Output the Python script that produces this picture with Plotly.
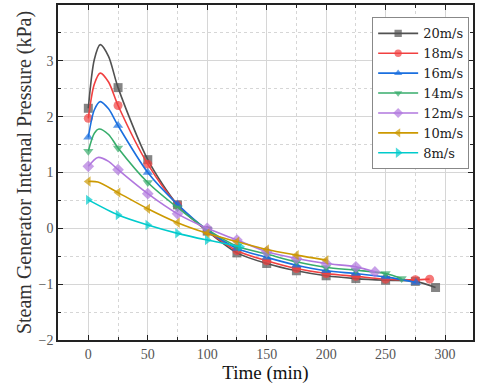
import plotly.graph_objects as go

# values
names = ['20m/s', '18m/s', '16m/s', '14m/s', '12m/s', '10m/s', '8m/s']

t_20 = [0, 25, 50, 75, 100, 125, 150, 175, 200, 225, 250, 275, 292]
p_20 = [2.15, 2.52, 1.23, 0.42, -0.05, -0.44, -0.63, -0.76, -0.85, -0.90, -0.93, -0.95, -1.06]
t_18 = [0, 25, 50, 75, 100, 125, 150, 175, 200, 225, 250, 275, 287]
p_18 = [1.97, 2.20, 1.15, 0.42, -0.04, -0.40, -0.58, -0.72, -0.81, -0.86, -0.91, -0.92, -0.91]
t_16 = [0, 25, 50, 75, 100, 125, 150, 175, 200, 225, 250, 275.5]
p_16 = [1.63, 1.84, 1.00, 0.43, -0.03, -0.36, -0.52, -0.66, -0.76, -0.81, -0.87, -0.97]
t_14 = [0, 25, 50, 75, 100, 125, 150, 175, 200, 225, 250, 263.5]
p_14 = [1.38, 1.44, 0.82, 0.37, -0.02, -0.32, -0.46, -0.60, -0.70, -0.75, -0.81, -0.90]
t_12 = [0, 25, 50, 75, 100, 125, 150, 175, 200, 225, 241]
p_12 = [1.11, 1.05, 0.62, 0.26, 0.0, -0.21, -0.42, -0.54, -0.63, -0.69, -0.78]
t_10 = [0, 25, 50, 75, 100, 125, 150, 175, 200]
p_10 = [0.84, 0.64, 0.35, 0.10, -0.09, -0.24, -0.38, -0.48, -0.57]
t_8 = [0, 25, 50, 75, 100, 128]
p_8 = [0.51, 0.24, 0.06, -0.09, -0.21, -0.33]

# extra curve points (no marker) around the early peak
peak_t_20 = [5, 10, 17]
peak_p_20 = [3.02, 3.29, 3.08]
peak_t_18 = [5, 10, 17]
peak_p_18 = [2.58, 2.78, 2.62]
peak_t_16 = [5, 10, 17]
peak_p_16 = [2.12, 2.27, 2.14]
peak_t_14 = [5, 9, 17]
peak_p_14 = [1.70, 1.78, 1.68]
peak_t_12 = [8, 17]
peak_p_12 = [1.27, 1.20]
peak_t_10 = [8]
peak_p_10 = [0.83]
peak_t_8 = []
peak_p_8 = []

series = [
    (t_20, p_20, peak_t_20, peak_p_20),
    (t_18, p_18, peak_t_18, peak_p_18),
    (t_16, p_16, peak_t_16, peak_p_16),
    (t_14, p_14, peak_t_14, peak_p_14),
    (t_12, p_12, peak_t_12, peak_p_12),
    (t_10, p_10, peak_t_10, peak_p_10),
    (t_8, p_8, peak_t_8, peak_p_8),
]

colors = ['#515151', '#F14040', '#1A6FDF', '#37AD6B', '#B177DE', '#CC9900', '#00CBCC']
symbols = ['square', 'circle', 'triangle-up', 'triangle-down', 'diamond', 'triangle-left', 'triangle-right']

fig = go.Figure()
for i, (t, p, pt, pp) in enumerate(series):
    pts = sorted([(a, b, 9) for a, b in zip(t, p)] + [(a, b, 0) for a, b in zip(pt, pp)])
    fig.add_trace(go.Scatter(
        x=[q[0] for q in pts], y=[q[1] for q in pts],
        mode='lines+markers', name=names[i],
        line=dict(color=colors[i], width=1.6, shape='spline', smoothing=0.8),
        marker=dict(symbol=symbols[i], size=[q[2] for q in pts], color=colors[i], line=dict(width=0)),
    ))

serif = 'Liberation Serif'
axis_common = dict(
    showline=True, linecolor='#222', linewidth=1.5, mirror='allticks',
    ticks='inside', ticklen=5, tickwidth=1.2, tickcolor='#222',
    showgrid=True, gridcolor='#d6d6d6', gridwidth=1,
    zeroline=False, automargin=False,
    tickfont=dict(family=serif, size=14, color='#555'),
)

fig.update_xaxes(
    range=[-25.5, 323.5], tickvals=[0, 50, 100, 150, 200, 250, 300],
    minor=dict(dtick=25, tick0=0, ticks='inside', ticklen=3, tickcolor='#222',
               showgrid=True, gridcolor='#d6d6d6', griddash='dot'),
    title=dict(text='Time (min)', font=dict(family=serif, size=19, color='#111'), standoff=2),
    **axis_common)
fig.update_yaxes(
    range=[-2, 4], dtick=1,
    minor=dict(dtick=0.5, ticks='inside', ticklen=3, tickcolor='#222',
               showgrid=True, gridcolor='#d6d6d6', griddash='dot'),
    title=dict(text='Steam Generator Internal Pressure (kPa)', font=dict(family=serif, size=20, color='#333'), standoff=2),
    **axis_common)

fig.update_layout(
    width=480, height=386,
    margin=dict(l=58, r=7, t=5, b=46),
    plot_bgcolor='white', paper_bgcolor='white',
    legend=dict(x=0.757, y=0.963, xanchor='left', yanchor='top',
                bgcolor='white', bordercolor='#888', borderwidth=1,
                font=dict(family='DejaVu Serif', size=13, color='#222'),
                tracegroupgap=0, itemwidth=40),
)

# the page body has a default margin; drop it so the figure sits at the window corner
fig.write_html("out.html", config={'displayModeBar': False},
               post_script="document.body.style.margin='0';")
